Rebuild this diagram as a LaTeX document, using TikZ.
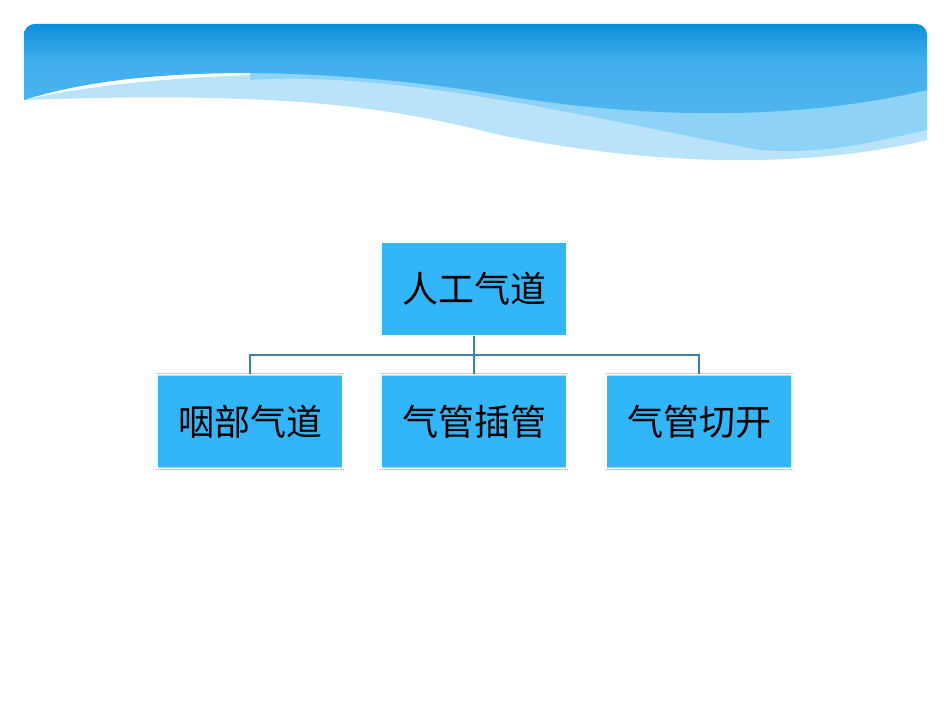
\documentclass[tikz,border=0pt]{standalone}
\usepackage{fontspec}
\newfontfamily\cjk{Noto Sans CJK SC}
\definecolor{boxblue}{HTML}{33B5FA}
\definecolor{linkblue}{HTML}{3C80B4}
\definecolor{topblue}{HTML}{0B8FDC}
\definecolor{midblue}{HTML}{4FB6F0}
\definecolor{lightblue}{HTML}{8ED2F8}
\definecolor{paleblue}{HTML}{B8E3FB}
\tikzset{
  box/.style={draw=boxblue!30!gray!40, fill=boxblue, minimum width=139.5pt, minimum height=70.5pt,
    font=\cjk\fontsize{27}{30}\selectfont, inner sep=0pt, double=white, double distance=1pt},
  link/.style={draw=linkblue, line width=1.6pt}
}
\begin{document}
\begin{tikzpicture}[x=0.75pt,y=-0.75pt]
\useasboundingbox (0,0) rectangle (950,713);
\fill[white] (0,0) rectangle (950,713);
% header
\fill[paleblue] (24,100) .. controls (200,60) and (500,70) .. (927,95) -- (927,140) .. controls (800,170) and (650,165) .. (500,135) .. controls (400,110) and (300,90) .. (24,100) -- cycle;
\fill[lightblue] (250,80) .. controls (400,70) and (600,120) .. (760,150) .. controls (830,155) and (880,140) .. (927,130) -- (927,60) -- (250,60) -- cycle;
\shade[top color=topblue, bottom color=midblue, rounded corners=8pt] (24,24) rectangle (927,70);
\shade[top color=midblue!80!topblue, bottom color=midblue] (24,60) -- (927,60) -- (927,90) .. controls (800,120) and (650,120) .. (500,95) .. controls (350,70) and (150,60) .. (24,100) -- cycle;
% boxes
\node[box] (root) at (474,289) {人工气道};
\node[box] (a) at (250,421.5) {咽部气道};
\node[box] (b) at (474,421.5) {气管插管};
\node[box] (c) at (699,421.5) {气管切开};
\coordinate (j) at (474,355);
\draw[link] (root.south) -- (j);
\draw[link] (a.north) |- (j) -| (c.north);
\draw[link] (j) -- (b.north);
\end{tikzpicture}
\end{document}
